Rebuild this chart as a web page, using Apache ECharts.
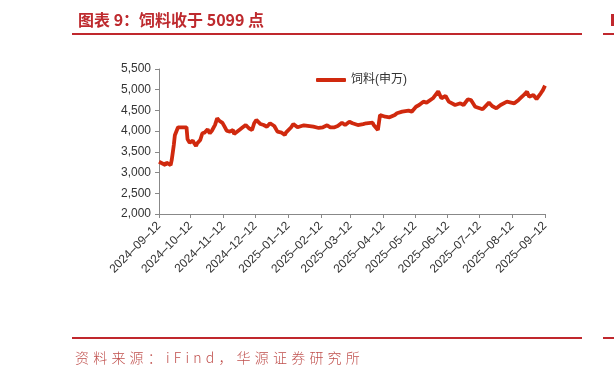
<!DOCTYPE html>
<html>
<head>
<meta charset="utf-8">
<script src="https://cdn.jsdelivr.net/npm/echarts@6/dist/echarts.min.js"></script>
<style>
  html, body { margin: 0; padding: 0; background: #fff; }
  #wrap { position: relative; width: 614px; height: 377px; }
  #chart { width: 614px; height: 377px; }
  #source {
    position: absolute; left: 75px; top: 347px;
    font-family: "Noto Sans CJK SC", sans-serif; font-size: 14px; font-weight: 300;
    color: #C0504D; letter-spacing: 4.2px; white-space: nowrap;
  }
</style>
</head>
<body>
<div id="wrap">
  <div id="chart"></div>
  <div id="source">资料来源：iFind，华源证券研究所</div>
</div>
<script>
// 饲料(申万) 指数，按交易日取点
const dates = [
  "2024-09-12", "2024-09-13", "2024-09-18", "2024-09-19", "2024-09-20", "2024-09-23", "2024-09-24", "2024-09-25", "2024-09-26", "2024-09-27", "2024-09-30",
  "2024-10-08", "2024-10-09", "2024-10-10", "2024-10-11", "2024-10-14", "2024-10-15", "2024-10-17", "2024-10-18", "2024-10-21", "2024-10-23", "2024-10-25", "2024-10-28", "2024-10-30",
  "2024-11-01", "2024-11-04", "2024-11-06", "2024-11-08", "2024-11-11", "2024-11-13", "2024-11-15", "2024-11-18", "2024-11-21", "2024-11-22", "2024-11-26", "2024-11-29",
  "2024-12-03", "2024-12-06", "2024-12-09", "2024-12-11", "2024-12-13", "2024-12-17", "2024-12-20", "2024-12-23", "2024-12-26", "2024-12-30",
  "2025-01-02", "2025-01-06", "2025-01-09", "2025-01-10", "2025-01-15", "2025-01-17", "2025-01-21", "2025-01-27",
  "2025-02-05", "2025-02-10", "2025-02-14", "2025-02-18", "2025-02-21", "2025-02-25", "2025-02-28",
  "2025-03-04", "2025-03-07", "2025-03-11", "2025-03-14", "2025-03-19", "2025-03-24", "2025-03-27",
  "2025-04-02", "2025-04-03", "2025-04-07", "2025-04-09", "2025-04-14", "2025-04-18", "2025-04-23", "2025-04-25", "2025-04-30",
  "2025-05-06", "2025-05-09", "2025-05-13", "2025-05-16", "2025-05-20", "2025-05-23", "2025-05-29",
  "2025-06-03", "2025-06-06", "2025-06-10", "2025-06-13", "2025-06-19", "2025-06-24", "2025-06-27",
  "2025-07-01", "2025-07-04", "2025-07-08", "2025-07-15", "2025-07-21", "2025-07-24", "2025-07-28",
  "2025-08-01", "2025-08-07", "2025-08-14", "2025-08-18", "2025-08-22", "2025-08-26", "2025-08-28",
  "2025-09-01", "2025-09-04", "2025-09-08", "2025-09-10", "2025-09-12"
];
const values = [
  3262, 3230, 3183, 3240, 3200, 3183, 3300, 3480, 3665, 3900, 4093,
  4093, 3803, 3760, 3721, 3770, 3720, 3641, 3700, 3786, 3948, 3963, 4045, 3948,
  4010, 4150, 4310, 4252, 4200, 4107, 4010, 3987, 4028, 3931, 4010, 4069,
  4148, 4069, 4028, 4190, 4270, 4172, 4148, 4107, 4190, 4124,
  3987, 3963, 3907, 3963, 4093, 4172, 4093, 4141,
  4107, 4076, 4093, 4141, 4093, 4093, 4124,
  4204, 4148, 4228, 4190, 4148, 4170, 4190,
  4204, 4148, 4028, 4390, 4349, 4334, 4390, 4431, 4470,
  4494, 4470, 4590, 4631, 4711, 4687, 4793,
  4960, 4793, 4849, 4711, 4631, 4672, 4631,
  4769, 4752, 4590, 4527, 4687, 4607, 4551,
  4631, 4711, 4672, 4752, 4849, 4952, 4832,
  4873, 4776, 4913, 4990, 5099
];
const seriesName = "饲料(申万)";
const yMin = 2000, yMax = 5500, yStep = 500;

// 日历日作为类目轴
function fmt(d) {
  const m = String(d.getUTCMonth() + 1).padStart(2, "0");
  const day = String(d.getUTCDate()).padStart(2, "0");
  return d.getUTCFullYear() + "-" + m + "-" + day;
}
let days = [];
let cur = new Date(Date.UTC(2024, 8, 12));
const end = new Date(Date.UTC(2025, 8, 12));
while (cur <= end) {
  days.push(fmt(cur));
  cur = new Date(cur.getTime() + 86400000);
}
let lookup = {};
dates.forEach((d, i) => { lookup[d] = values[i]; });
let lineData = days.map((d) => (d in lookup ? lookup[d] : null));

const isMonthTick = (idx, val) => val.slice(8) === "12";

let chart = echarts.init(document.getElementById("chart"));
chart.setOption({
  animation: false,
  title: {
    text: "图表 9：饲料收于 5099 点",
    left: 73,
    top: 7,
    textStyle: {
      fontFamily: "Noto Sans CJK SC",
      fontSize: 16,
      fontWeight: "bold",
      color: "#BE2A2E",
    },
  },
  grid: {
    left: 159,
    right: 69,
    top: 69,
    bottom: 163,
  },
  legend: {
    left: 311,
    top: 69,
    itemWidth: 30,
    itemHeight: 4,
    itemGap: 6,
    icon: "roundRect",
    textStyle: {
      fontFamily: "Liberation Sans, Noto Sans CJK SC",
      fontSize: 12,
      color: "#333",
    },
    data: [seriesName],
  },
  xAxis: {
    type: "category",
    data: days,
    boundaryGap: false,
    axisLine: { lineStyle: { color: "#888", width: 1 } },
    axisTick: { interval: isMonthTick, length: 4, lineStyle: { color: "#888" } },
    axisLabel: {
      interval: isMonthTick,
      rotate: 45,
      margin: 10,
      fontFamily: "Liberation Sans",
      fontSize: 12,
      color: "#333",
      formatter: (v) => v.replace(/-/g, "–"),
    },
    splitLine: { show: false },
  },
  yAxis: {
    type: "value",
    min: yMin,
    max: yMax,
    interval: yStep,
    axisLine: { show: true, lineStyle: { color: "#888", width: 1 } },
    axisTick: { show: true, length: 4, lineStyle: { color: "#888" } },
    axisLabel: {
      margin: 8,
      fontFamily: "Liberation Sans",
      fontSize: 12,
      color: "#333",
      formatter: (v) => v.toLocaleString("en-US"),
    },
    splitLine: { show: false },
  },
  series: [
    {
      name: seriesName,
      type: "line",
      data: lineData,
      connectNulls: true,
      showSymbol: false,
      symbol: "none",
      lineStyle: { color: "#D0290E", width: 3.8 },
      itemStyle: { color: "#D0290E" },
    },
  ],
  graphic: [
    { type: "rect", shape: { x: 72, y: 33, width: 510, height: 2 }, style: { fill: "#C0282D" } },
    { type: "rect", shape: { x: 72, y: 337, width: 510, height: 2 }, style: { fill: "#C0282D" } },
    { type: "rect", shape: { x: 603, y: 33, width: 11, height: 2 }, style: { fill: "#C0282D" } },
    { type: "rect", shape: { x: 611, y: 14, width: 3, height: 12 }, style: { fill: "#C0282D" } },
    { type: "rect", shape: { x: 603, y: 337, width: 11, height: 2 }, style: { fill: "#C0282D" } },
  ],
});
</script>
</body>
</html>
